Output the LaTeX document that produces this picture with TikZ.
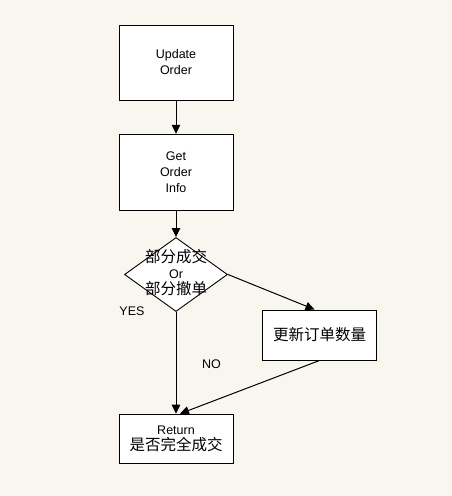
\documentclass[tikz,border=0pt]{standalone}
\usepackage{fontspec}
\setmainfont{Liberation Sans}
\newfontfamily\cjk{Noto Sans CJK SC}
\usetikzlibrary{shapes.geometric,arrows.meta}
\definecolor{bgpaper}{HTML}{F9F6F0}
\newcommand{\zh}[1]{{\cjk\fontsize{15.5}{16}\selectfont #1}}

\begin{document}
\begin{tikzpicture}[x=1pt,y=-1pt,
    >={Triangle[length=9pt,width=8.5pt]},
    font=\fontsize{12.5}{16}\selectfont,
    every node/.style={align=center},
    box/.style={rectangle,draw,fill=white,line width=1pt,minimum width=114pt,inner sep=0pt},
    decision/.style={diamond,draw,fill=white,line width=0.9pt,minimum width=103pt,minimum height=74pt,inner sep=0pt},
    flow/.style={->,line width=1pt}]
        % 背景
        \fill[bgpaper] (0,0) rectangle (452,496);
        \useasboundingbox (0,0) rectangle (452,496);

        % 流程框
        \node[box,minimum height=75pt] (upd) at (176,62.5) {Update\\Order};
        \node[box,minimum height=76pt] (info) at (176,172.3) {Get\\Order\\Info};
        \node[decision] (check) at (176,274.5) {};
        \node[inner sep=0pt] (checktext) at (176,273) {\zh{部分成交}\\Or\\\zh{部分撤单}};
        \node[box,minimum height=50pt] (qty) at (319.5,335) {\zh{更新订单数量}};
        \node[box,minimum height=49pt] (ret) at (176,438.7) {Return\\\zh{是否完全成交}};

        % 连接箭头
        \draw[flow] (upd) -- (info);
        \draw[flow] (info) -- (check);
        \draw[flow] (check.east) -- ([xshift=-5pt]qty.north);
        \draw[flow] (check.south) -- (ret.north);
        \draw[flow] (qty.south) -- ([xshift=4pt]ret.north);

        % 分支说明
        \node (yes) at (132,311) {YES};
        \node (no) at (211.5,364) {NO};
    \end{tikzpicture}
\end{document}
